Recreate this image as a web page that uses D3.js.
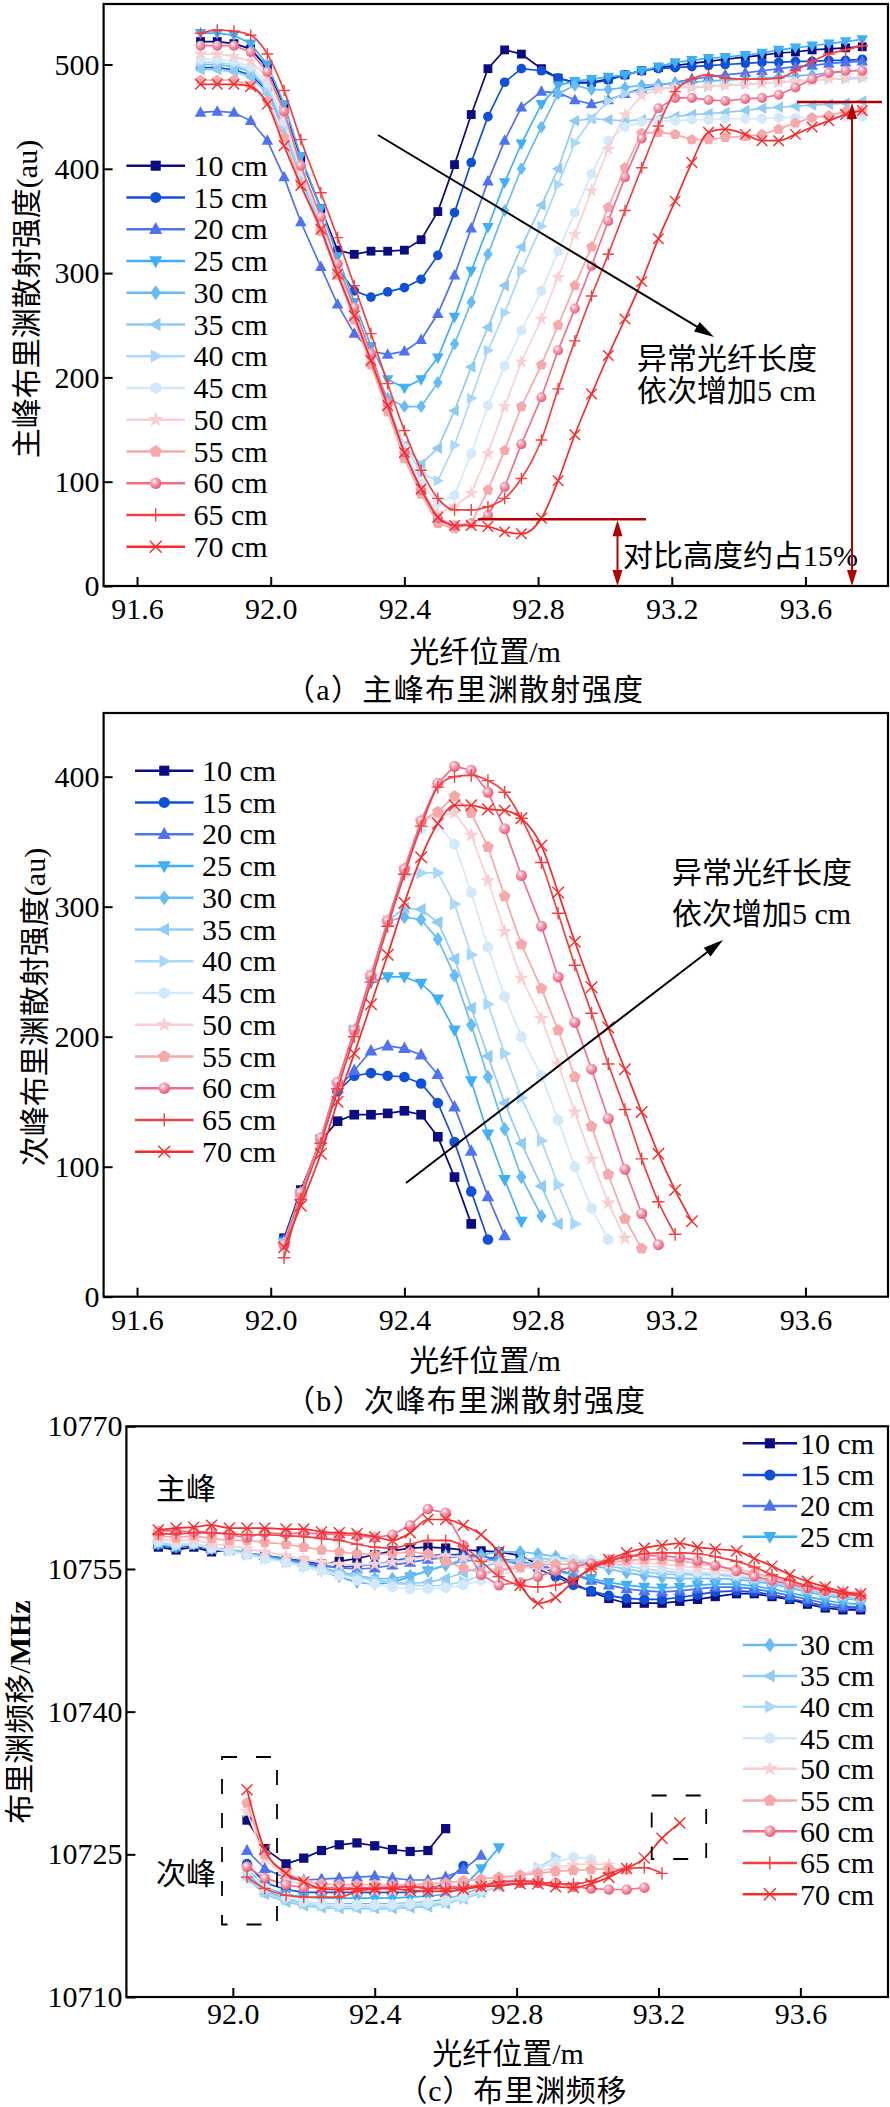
<!DOCTYPE html>
<html><head><meta charset="utf-8">
<script src="https://cdn.jsdelivr.net/npm/d3@7/dist/d3.min.js"></script>
<style>html,body{margin:0;padding:0;background:#fff;}</style>
</head><body>
<svg id="chart" width="890" height="2107" xmlns="http://www.w3.org/2000/svg"></svg>
<script>
// ---------------- DATA ----------------
const seriesLabels = ["10 cm","15 cm","20 cm","25 cm","30 cm","35 cm","40 cm","45 cm","50 cm","55 cm","60 cm","65 cm","70 cm"];
const seriesColors = ["#0b0b83","#0f50da","#4d73f2","#3eb0f7","#66bcf5","#8fcbf3","#aad8f8","#d2e9fa","#f9cfd2","#f7a9aa","#f06e8c","#f34141","#f82a2a"];
const markerTypes = ["square","circle","triUp","triDown","diamond","triLeft","triRight","hexagon","star","pentagon","sphere","plus","cross"];
const positions = [91.79,91.84,91.89,91.94,91.99,92.04,92.09,92.15,92.20,92.25,92.30,92.35,92.40,92.45,92.50,92.55,92.60,92.65,92.70,92.75,92.81,92.86,92.91,92.96,93.01,93.06,93.11,93.16,93.21,93.26,93.31,93.36,93.42,93.47,93.52,93.57,93.62,93.67,93.72,93.77];
const secStartIndex = 5;

// (a) main peak Brillouin intensity (au)
const intensityMain = [
 [522,522,520,515,497,460,410,362,322,318,321,321,322,332,359,404,452,496,514,510,496,487,483,483,486,490,494,497,499,501,503,505,507,509,511,512,514,515,516,517],
 [497,497,495,490,475,440,394,348,305,283,277,282,286,294,317,358,406,450,483,496,494,487,482,482,485,490,494,496,497,498,499,500,501,502,502,503,503,504,504,505],
 [454,455,454,446,427,392,349,306,270,242,225,222,225,236,261,298,343,388,427,459,474,473,466,462,466,472,477,480,483,486,488,490,492,494,496,498,499,501,502,503],
 [530,530,528,520,500,462,412,362,316,272,230,198,190,198,219,258,302,344,387,424,462,480,484,486,488,490,494,498,502,504,506,507,509,511,514,516,518,520,522,524],
 [500,500,498,493,476,440,392,345,300,258,215,180,172,172,195,232,272,318,360,400,440,472,480,476,476,478,480,481,482,483,484,485,486,487,488,489,490,492,493,495],
 [495,495,493,488,472,436,390,344,300,257,213,170,135,117,132,168,210,248,288,325,365,400,446,448,447,446,447,448,450,452,453,454,456,458,459,460,461,462,463,465],
 [502,502,500,495,478,442,394,347,302,260,218,175,135,108,101,135,180,226,262,302,345,385,425,448,465,472,475,477,478,478,479,480,481,482,483,484,485,486,486,487],
 [505,505,503,498,482,445,398,350,305,262,218,175,132,98,80,87,127,173,211,245,283,321,358,395,427,440,445,446,446,447,447,448,448,448,449,449,449,450,450,450],
 [510,510,508,503,488,452,402,352,306,262,218,172,127,92,70,76,89,127,172,215,256,296,337,379,419,452,470,476,478,478,479,480,481,482,483,484,485,486,487,488],
 [485,485,485,480,465,430,385,340,298,255,212,167,122,88,60,55,60,92,130,172,212,250,288,325,363,401,434,435,433,428,428,430,431,433,438,444,449,451,455,456],
 [518,518,518,512,493,455,403,354,309,267,223,175,128,92,65,58,60,68,95,136,181,226,266,307,350,392,429,458,468,468,466,465,467,468,471,478,486,492,494,494],
 [530,533,532,528,510,475,428,377,334,288,242,194,149,111,84,73,73,76,84,103,140,189,235,278,318,360,401,441,474,486,490,487,486,486,487,494,503,510,514,518],
 [481,481,481,479,462,422,384,342,299,259,216,173,128,93,66,58,58,57,52,50,65,101,145,184,221,256,292,333,369,406,435,438,433,427,427,433,440,446,452,456]
];

// (b) secondary peak Brillouin intensity (au), first value at positions[secStartIndex]
const intensitySecondary = [
 [45,82,120,135,140,140,141,143,140,123,92,56],
 [44,80,120,158,170,172,170,169,164,149,119,81,44],
 [43,80,121,160,174,189,193,191,186,171,146,112,77,47],
 [42,79,121,163,205,242,246,246,241,229,205,166,125,90,58],
 [41,79,121,164,205,246,289,292,290,275,247,209,169,129,92,62],
 [40,79,121,164,205,246,289,299,298,288,260,222,185,149,118,85,56],
 [40,79,121,164,205,247,289,324,326,326,302,263,225,187,153,120,86,56],
 [40,79,121,164,205,247,289,329,360,363,348,311,269,231,200,170,136,100,68,44],
 [40,79,121,164,205,247,289,329,366,370,372,355,320,281,245,214,179,142,106,72,45],
 [40,79,121,164,205,247,289,329,366,373,385,372,346,308,271,237,205,169,131,94,60,37],
 [40,80,122,165,205,247,289,329,366,395,408,405,388,360,324,285,246,211,175,137,98,64,40],
 [30,75,118,160,200,242,285,325,362,392,400,401,397,388,368,334,295,255,218,179,144,106,73,48],
 [38,70,110,150,187,225,263,303,338,364,378,378,375,374,368,347,311,273,238,207,175,142,110,82,58]
];

// (c) Brillouin frequency shift (MHz), main peak
const shiftMain = [
 [10757.3,10757.0,10757.3,10756.8,10757.0,10756.6,10756.4,10756.1,10755.8,10755.5,10755.8,10756.1,10756.5,10756.9,10757.2,10757.3,10757.2,10757.0,10756.9,10756.8,10756.4,10755.5,10754.5,10753.5,10752.6,10751.9,10751.4,10751.4,10751.4,10751.6,10751.8,10752.1,10752.4,10752.4,10752.1,10751.8,10751.3,10750.9,10750.7,10750.7],
 [10757.5,10757.2,10757.5,10757.0,10757.0,10756.6,10756.3,10756.0,10755.6,10755.3,10755.2,10755.3,10755.5,10755.8,10756.2,10756.4,10756.5,10756.5,10756.3,10756.0,10755.5,10755.0,10754.2,10753.3,10752.7,10752.2,10751.9,10751.8,10751.8,10752.0,10752.3,10752.6,10752.7,10752.6,10752.3,10751.9,10751.5,10751.1,10750.9,10750.9],
 [10757.6,10757.3,10757.6,10757.1,10757.0,10756.7,10756.4,10756.1,10755.7,10755.4,10755.1,10755.0,10755.1,10755.4,10755.7,10756.0,10756.2,10756.3,10756.3,10756.1,10755.8,10755.4,10755.0,10754.4,10753.8,10753.3,10752.9,10752.7,10752.6,10752.7,10752.9,10753.1,10753.1,10752.9,10752.6,10752.2,10751.8,10751.4,10751.1,10751.0],
 [10757.6,10757.3,10757.6,10757.1,10757.0,10756.6,10756.2,10755.8,10755.3,10754.8,10754.2,10753.6,10753.4,10753.6,10754.2,10754.8,10755.4,10755.8,10756.0,10755.9,10755.6,10755.2,10754.8,10754.4,10754.0,10753.6,10753.3,10753.1,10753.0,10753.1,10753.3,10753.4,10753.4,10753.2,10752.9,10752.5,10752.1,10751.7,10751.4,10751.3],
 [10757.8,10757.5,10757.7,10757.2,10757.1,10756.7,10756.3,10755.9,10755.5,10755.1,10754.7,10754.3,10754.0,10754.0,10754.3,10754.8,10755.4,10756.0,10756.5,10756.8,10756.8,10756.6,10756.3,10755.9,10755.4,10755.0,10754.6,10754.3,10754.1,10754.0,10754.0,10754.0,10753.9,10753.7,10753.4,10753.0,10752.6,10752.2,10751.9,10751.7],
 [10757.8,10757.5,10757.7,10757.2,10757.0,10756.6,10756.2,10755.8,10755.4,10755.0,10754.6,10754.2,10753.9,10753.6,10753.5,10753.6,10754.0,10754.6,10755.2,10755.7,10756.0,10756.1,10756.0,10755.8,10755.6,10755.3,10755.0,10754.7,10754.5,10754.4,10754.4,10754.4,10754.2,10753.9,10753.6,10753.2,10752.8,10752.4,10752.1,10751.9],
 [10757.7,10757.4,10757.6,10757.1,10756.9,10756.5,10756.1,10755.7,10755.3,10754.9,10754.5,10754.1,10753.8,10753.5,10753.3,10753.2,10753.3,10753.7,10754.3,10754.9,10755.4,10755.7,10755.9,10755.9,10755.8,10755.6,10755.3,10755.0,10754.8,10754.6,10754.5,10754.5,10754.3,10754.0,10753.7,10753.3,10752.9,10752.5,10752.2,10752.0],
 [10757.9,10757.6,10757.7,10757.2,10756.9,10756.5,10756.1,10755.7,10755.3,10754.8,10754.3,10753.8,10753.4,10753.1,10752.9,10752.9,10753.0,10753.3,10753.8,10754.4,10755.0,10755.5,10755.8,10756.0,10756.0,10755.9,10755.7,10755.4,10755.1,10754.9,10754.7,10754.6,10754.4,10754.1,10753.8,10753.4,10753.0,10752.6,10752.3,10752.1],
 [10758.2,10757.9,10758.1,10757.6,10757.5,10757.1,10756.8,10756.4,10756.0,10755.7,10755.5,10755.4,10755.5,10755.7,10756.0,10756.3,10756.4,10756.2,10755.9,10755.5,10755.2,10755.0,10755.0,10755.1,10755.3,10755.5,10755.6,10755.6,10755.5,10755.3,10755.1,10754.9,10754.7,10754.4,10754.1,10753.7,10753.3,10753.0,10752.7,10752.5],
 [10758.5,10758.3,10758.5,10758.2,10758.0,10758.0,10757.8,10757.6,10757.3,10757.0,10756.8,10756.6,10756.5,10756.6,10756.8,10756.6,10755.8,10755.1,10754.6,10754.8,10755.2,10755.4,10755.5,10755.5,10755.5,10755.7,10755.9,10756.0,10756.0,10755.8,10755.6,10755.3,10755.0,10754.6,10754.1,10753.6,10753.1,10752.7,10752.4,10752.2],
 [10759.0,10759.0,10758.9,10758.9,10758.6,10758.3,10758.8,10758.7,10758.8,10758.7,10758.6,10758.5,10758.3,10758.6,10759.6,10761.3,10760.9,10757.5,10754.4,10753.3,10753.6,10754.2,10754.8,10755.2,10755.6,10756.0,10756.3,10756.4,10756.4,10756.2,10755.9,10755.4,10754.8,10754.2,10753.8,10753.4,10753.0,10752.7,10752.4,10752.2],
 [10758.7,10758.7,10758.8,10758.8,10758.7,10758.6,10758.6,10758.5,10758.4,10758.2,10758.0,10757.6,10757.3,10757.2,10757.6,10758.0,10758.0,10757.4,10755.8,10754.2,10753.3,10753.1,10753.3,10753.9,10755.0,10755.8,10756.3,10756.6,10756.7,10756.7,10756.6,10756.3,10755.8,10755.2,10754.4,10753.8,10753.2,10752.8,10752.4,10752.2],
 [10759.1,10759.3,10759.4,10759.6,10759.3,10759.3,10759.3,10759.2,10759.2,10758.9,10758.8,10758.7,10758.4,10758.0,10758.8,10760.2,10760.2,10759.6,10758.6,10756.8,10753.3,10751.4,10752.0,10753.7,10755.1,10756.0,10756.7,10757.2,10757.5,10757.7,10757.3,10757.1,10756.9,10756.1,10755.3,10754.4,10753.7,10753.1,10752.6,10752.4]
];

// (c) Brillouin frequency shift (MHz), secondary peak, first value at positions[secStartIndex]
const shiftSecondary = [
 [10728.6,10725.6,10724.0,10724.6,10725.4,10726.0,10726.2,10725.9,10725.5,10725.3,10725.4,10727.7],
 [10724.0,10722.0,10721.3,10721.0,10721.0,10721.0,10721.0,10721.0,10721.0,10721.0,10721.2,10722.0,10723.8],
 [10725.4,10723.5,10722.5,10722.3,10722.4,10722.5,10722.6,10722.7,10722.5,10722.3,10722.3,10722.6,10723.4,10724.9],
 [10723.5,10721.5,10720.8,10720.5,10720.4,10720.4,10720.4,10720.4,10720.4,10720.5,10720.6,10720.8,10721.6,10723.5,10725.7],
 [10723.0,10721.2,10720.3,10720.0,10719.8,10719.8,10719.8,10719.8,10719.8,10719.9,10720.0,10720.3,10720.8,10721.5,10722.0,10722.3],
 [10722.5,10720.8,10720.0,10719.6,10719.4,10719.3,10719.3,10719.3,10719.3,10719.4,10719.5,10719.8,10720.3,10721.0,10721.6,10722.0,10722.3],
 [10722.8,10721.0,10720.2,10719.8,10719.6,10719.5,10719.5,10719.5,10719.5,10719.6,10719.7,10719.9,10720.3,10720.9,10721.7,10722.6,10723.6,10724.7],
 [10723.3,10721.5,10720.5,10720.0,10719.8,10719.7,10719.7,10719.7,10719.7,10719.8,10719.9,10720.1,10720.5,10721.2,10722.0,10722.8,10723.5,10724.2,10724.7,10724.5],
 [10729.5,10724.5,10722.5,10721.6,10721.3,10721.2,10721.2,10721.2,10721.2,10721.2,10721.3,10721.4,10721.6,10722.0,10722.4,10722.8,10723.2,10723.6,10723.9,10724.0,10723.9],
 [10730.4,10725.0,10723.0,10722.2,10721.9,10721.8,10721.8,10721.8,10721.8,10721.8,10721.9,10722.0,10722.2,10722.4,10722.6,10722.8,10723.0,10723.2,10723.3,10723.4,10723.5,10723.4],
 [10723.7,10722.5,10721.8,10721.5,10721.5,10721.5,10721.5,10721.5,10721.6,10721.6,10721.6,10721.6,10721.6,10721.7,10721.9,10722.0,10722.0,10722.0,10721.6,10721.4,10721.3,10721.3,10721.5],
 [10722.6,10721.4,10720.7,10720.5,10720.5,10720.5,10721.1,10721.4,10721.5,10721.6,10721.4,10721.4,10721.5,10721.7,10722.1,10722.2,10722.1,10721.9,10721.9,10722.2,10723.0,10723.5,10723.6,10723.0],
 [10731.8,10725.5,10723.0,10722.1,10721.4,10721.3,10721.4,10721.4,10721.4,10721.2,10721.1,10721.1,10721.3,10721.6,10721.7,10721.9,10721.9,10721.6,10721.5,10721.9,10722.6,10723.5,10724.6,10726.7,10728.3]
];

const ticksAB_X = [91.6,92.0,92.4,92.8,93.2,93.6];
const ticksA_Y = [0,100,200,300,400,500];
const ticksB_Y = [0,100,200,300,400];
const ticksC_X = [92.0,92.4,92.8,93.2,93.6];
const ticksC_Y = [10710,10725,10740,10755,10770];

// ---------------- DRAWING ----------------
const svg = d3.select("#chart");
const FONT = "'Liberation Serif','Times New Roman','Noto Sans CJK SC',serif";
const defs = svg.append("defs");
const grad = defs.append("radialGradient").attr("id","sphereGrad").attr("cx","0.38").attr("cy","0.35").attr("r","0.7");
grad.append("stop").attr("offset","0%").attr("stop-color","#ffffff");
grad.append("stop").attr("offset","35%").attr("stop-color","#f7a3b6");
grad.append("stop").attr("offset","100%").attr("stop-color","#e8506f");

function poly(n, r, rot){
  const p=[]; for(let k=0;k<n;k++){const a=rot+k*2*Math.PI/n; p.push([r*Math.cos(a), r*Math.sin(a)]);} return p;
}
function addMarker(g, type, color, cx, cy, s){
  const t = `translate(${cx},${cy})`;
  const P = pts => g.append("polygon").attr("transform",t).attr("points",pts.map(p=>p.join(",")).join(" ")).attr("fill",color);
  switch(type){
    case "square": g.append("rect").attr("x",cx-s*0.42).attr("y",cy-s*0.42).attr("width",s*0.84).attr("height",s*0.84).attr("fill",color); break;
    case "circle": g.append("circle").attr("cx",cx).attr("cy",cy).attr("r",s*0.46).attr("fill",color); break;
    case "sphere": g.append("circle").attr("cx",cx).attr("cy",cy).attr("r",s*0.48).attr("fill","url(#sphereGrad)"); break;
    case "triUp": P([[0,-s*0.6],[s*0.55,s*0.4],[-s*0.55,s*0.4]]); break;
    case "triDown": P([[0,s*0.6],[s*0.55,-s*0.4],[-s*0.55,-s*0.4]]); break;
    case "triLeft": P([[-s*0.6,0],[s*0.4,-s*0.55],[s*0.4,s*0.55]]); break;
    case "triRight": P([[s*0.6,0],[-s*0.4,-s*0.55],[-s*0.4,s*0.55]]); break;
    case "diamond": P([[0,-s*0.62],[s*0.45,0],[0,s*0.62],[-s*0.45,0]]); break;
    case "hexagon": P(poly(6,s*0.52,Math.PI/6)); break;
    case "pentagon": P(poly(5,s*0.54,-Math.PI/2)); break;
    case "star": g.append("path").attr("transform",t).attr("d",d3.symbol(d3.symbolStar, s*s*0.55)()).attr("fill",color); break;
    case "plus": { const h=s*0.55; g.append("path").attr("transform",t).attr("d",`M${-h},0H${h}M0,${-h}V${h}`).attr("stroke",color).attr("stroke-width",1.4).attr("fill","none"); break; }
    case "cross": { const h=s*0.5; g.append("path").attr("transform",t).attr("d",`M${-h},${-h}L${h},${h}M${-h},${h}L${h},${-h}`).attr("stroke",color).attr("stroke-width",1.4).attr("fill","none"); break; }
  }
}

function drawFrame(c){
  svg.append("rect").attr("x",c.left).attr("y",c.top).attr("width",c.right-c.left).attr("height",c.bottom-c.top)
    .attr("fill","none").attr("stroke","#000").attr("stroke-width",2.2);
}

function drawAxes(c, x, y){
  const gx = svg.append("g").attr("transform",`translate(0,${c.bottom})`)
    .call(d3.axisBottom(x).tickValues(c.xTicks).tickFormat(d3.format(".1f")).tickSizeInner(-9).tickSizeOuter(0).tickPadding(c.xPad));
  const gy = svg.append("g").attr("transform",`translate(${c.left},0)`)
    .call(d3.axisLeft(y).tickValues(c.yTicks).tickFormat(d3.format("d")).tickSizeInner(-9).tickSizeOuter(0).tickPadding(4));
  [gx,gy].forEach(g=>{
    g.select(".domain").remove();
    g.selectAll(".tick line").attr("stroke","#000").attr("stroke-width",2);
    g.selectAll(".tick text").attr("font-family",FONT).attr("font-size",30).attr("fill","#000");
  });
}

function drawSeries(c, x, y, data, start, size, smoothIdx){
  const g = svg.append("g");
  data.forEach((vals,k)=>{
    const st = start;
    const pts = vals.map((v,j)=>[x(positions[st+j]), y(v)]);
    const line = d3.line().curve(smoothIdx.includes(k)? d3.curveMonotoneX : d3.curveLinear);
    g.append("path").attr("d",line(pts)).attr("fill","none").attr("stroke",seriesColors[k]).attr("stroke-width",1.7);
    const gm = g.append("g");
    pts.forEach(p=>addMarker(gm, markerTypes[k], seriesColors[k], p[0], p[1], size));
  });
}

function drawLegendEntry(k, x0, x1, tx, yy, size){
  const g = svg.append("g");
  g.append("line").attr("x1",x0).attr("x2",x1).attr("y1",yy).attr("y2",yy).attr("stroke",seriesColors[k]).attr("stroke-width",2.6);
  addMarker(g, markerTypes[k], seriesColors[k], (x0+x1)/2, yy, size+2);
  g.append("text").attr("x",tx).attr("y",yy).attr("dy","0.34em").attr("font-family",FONT).attr("font-size",30).text(seriesLabels[k]);
}

function text(x,y,str,opts={}){
  const t = svg.append("text").attr("x",x).attr("y",y).attr("font-family",FONT).attr("font-size",opts.size||30)
    .attr("text-anchor",opts.anchor||"start").attr("dominant-baseline","central").attr("fill",opts.fill||"#000");
  if(opts.rotate) t.attr("transform",`rotate(-90,${x},${y})`);
  if(opts.len) t.attr("textLength",opts.len).attr("lengthAdjust","spacing");
  t.text(str);
  return t;
}

function arrow(x1,y1,x2,y2,color,w,len,wid){
  const a=Math.atan2(y2-y1,x2-x1);
  const bx=x2-len*Math.cos(a), by=y2-len*Math.sin(a);
  svg.append("line").attr("x1",x1).attr("y1",y1).attr("x2",bx+2*Math.cos(a)).attr("y2",by+2*Math.sin(a)).attr("stroke",color).attr("stroke-width",w);
  const px=-Math.sin(a)*wid/2, py=Math.cos(a)*wid/2;
  svg.append("polygon").attr("points",`${x2},${y2} ${bx+px},${by+py} ${bx-px},${by-py}`).attr("fill",color);
}
function headOnly(x1,y1,x2,y2,color,len,wid){
  const a=Math.atan2(y2-y1,x2-x1);
  const bx=x2-len*Math.cos(a), by=y2-len*Math.sin(a);
  const px=-Math.sin(a)*wid/2, py=Math.cos(a)*wid/2;
  svg.append("polygon").attr("points",`${x2},${y2} ${bx+px},${by+py} ${bx-px},${by-py}`).attr("fill",color);
}

// ---- Panel (a) ----
const A = {left:103.6,right:888,top:4,bottom:586,xTicks:ticksAB_X,yTicks:ticksA_Y,xPad:12};
const xA = d3.scaleLinear().domain([91.5,93.847]).range([A.left,A.right]);
const yA = d3.scaleLinear().domain([0,558]).range([A.bottom,A.top]);
drawSeries(A,xA,yA,intensityMain,0,10.5,[11,12]);
drawFrame(A); drawAxes(A,xA,yA);
seriesLabels.forEach((l,k)=>drawLegendEntry(k,126.4,185,193.5,165.7+31.75*k,10));
const DR="#b40000";
arrow(378,135,714,337,"#000",2,20,11);
text(637,358,"异常光纤长度");
text(637,390,"依次增加5 cm");
svg.append("line").attr("x1",478).attr("x2",646).attr("y1",yA(64)).attr("y2",yA(64)).attr("stroke",DR).attr("stroke-width",2.6);
svg.append("line").attr("x1",617.5).attr("x2",617.5).attr("y1",yA(64)+14).attr("y2",A.bottom-14).attr("stroke",DR).attr("stroke-width",2);
headOnly(617.5,560,617.5,yA(64)+1,DR,16,10);
headOnly(617.5,540,617.5,A.bottom,DR,16,10);
text(623,555,"对比高度约占15%");
svg.append("line").attr("x1",797).attr("x2",882).attr("y1",yA(464)).attr("y2",yA(464)).attr("stroke",DR).attr("stroke-width",2.6);
svg.append("line").attr("x1",852).attr("x2",852).attr("y1",yA(464)+14).attr("y2",A.bottom-14).attr("stroke",DR).attr("stroke-width",2);
headOnly(852,300,852,yA(464)+1,DR,16,10);
headOnly(852,400,852,A.bottom,DR,16,10);
text(26,299,"主峰布里渊散射强度(au)",{anchor:"middle",rotate:true});
text(485,651,"光纤位置/m",{anchor:"middle"});
text(464,689,"（a）主峰布里渊散射强度",{anchor:"middle",len:358});

// ---- Panel (b) ----
const B = {left:103.6,right:888,top:713,bottom:1296.7,xTicks:ticksAB_X,yTicks:ticksB_Y,xPad:12};
const xB = d3.scaleLinear().domain([91.5,93.847]).range([B.left,B.right]);
const yB = d3.scaleLinear().domain([0,449]).range([B.bottom,B.top]);
drawSeries(B,xB,yB,intensitySecondary,secStartIndex,11.5,[11,12]);
drawFrame(B); drawAxes(B,xB,yB);
seriesLabels.forEach((l,k)=>drawLegendEntry(k,135,193.5,202,770.7+31.75*k,10));
arrow(406,1183,723,940,"#000",2,20,11);
text(672,872,"异常光纤长度");
text(672,913,"依次增加5 cm");
text(34,1007,"次峰布里渊散射强度(au)",{anchor:"middle",rotate:true});
text(485,1360,"光纤位置/m",{anchor:"middle"});
text(465,1400,"（b）次峰布里渊散射强度",{anchor:"middle",len:360});

// ---- Panel (c) ----
const C = {left:126.4,right:888,top:1426.3,bottom:1997,xTicks:ticksC_X,yTicks:ticksC_Y,xPad:6};
const xC = d3.scaleLinear().domain([91.7,93.847]).range([C.left,C.right]);
const yC = d3.scaleLinear().domain([10710,10770]).range([C.bottom,C.top]);
drawSeries(C,xC,yC,shiftMain,0,11,[11,12]);
drawSeries(C,xC,yC,shiftSecondary,secStartIndex,11,[11,12]);
drawFrame(C); drawAxes(C,xC,yC);
const legCY = [1443.3,1475,1506,1536.7,1645,1676,1706.7,1738.3,1768.7,1800.5,1831.3,1863,1894.3];
seriesLabels.forEach((l,k)=>drawLegendEntry(k,742.7,797,800,legCY[k],10));
const dash = "15,19";
svg.append("rect").attr("x",222).attr("y",1757).attr("width",55).attr("height",167.5).attr("fill","none").attr("stroke","#000").attr("stroke-width",1.8).attr("stroke-dasharray",dash);
svg.append("rect").attr("x",651.7).attr("y",1795.5).attr("width",54.5).attr("height",63.5).attr("fill","none").attr("stroke","#000").attr("stroke-width",1.8).attr("stroke-dasharray",dash);
text(156,1488,"主峰");
text(156,1873,"次峰");
const yt = text(19,1712,"",{anchor:"middle",rotate:true});
yt.append("tspan").text("布里渊频移/");
yt.append("tspan").attr("font-weight","bold").text("MHz");
text(508,2053,"光纤位置/m",{anchor:"middle"});
text(512,2090,"（c）布里渊频移",{anchor:"middle",len:229});
</script>
</body></html>
